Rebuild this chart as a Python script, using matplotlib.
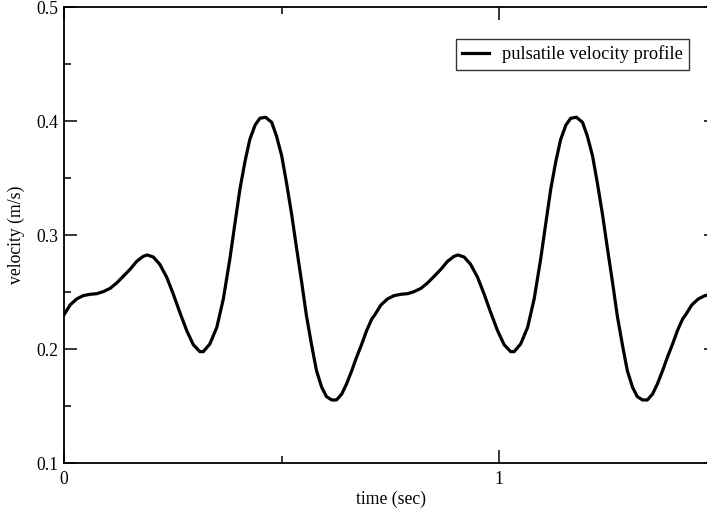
import matplotlib
matplotlib.use("Agg")
import matplotlib.pyplot as plt
from matplotlib.ticker import MultipleLocator

time_sec = [
    0.000, 0.014, 0.029, 0.044, 0.060, 0.075, 0.090, 0.106, 0.121, 0.136,
    0.152, 0.167, 0.182, 0.191, 0.205, 0.220, 0.236, 0.251, 0.266, 0.282,
    0.297, 0.312, 0.320, 0.335, 0.351, 0.366, 0.381, 0.393, 0.404, 0.416,
    0.427, 0.439, 0.450, 0.463, 0.477, 0.488, 0.500, 0.511, 0.523, 0.534,
    0.546, 0.557, 0.569, 0.580, 0.592, 0.603, 0.615, 0.626, 0.638, 0.649,
    0.661, 0.672, 0.684, 0.695, 0.707,
    0.714, 0.728, 0.743, 0.758, 0.774, 0.789, 0.804, 0.820, 0.835, 0.850,
    0.866, 0.881, 0.896, 0.905, 0.919, 0.934, 0.950, 0.965, 0.980, 0.996,
    1.011, 1.026, 1.034, 1.049, 1.065, 1.080, 1.095, 1.107, 1.118, 1.130,
    1.141, 1.153, 1.164, 1.177, 1.191, 1.202, 1.214, 1.225, 1.237, 1.248,
    1.260, 1.271, 1.283, 1.294, 1.306, 1.317, 1.329, 1.340, 1.352, 1.363,
    1.375, 1.386, 1.398, 1.409, 1.421,
    1.428, 1.442, 1.457, 1.472, 1.488, 1.503,
]
velocity = [
    0.2300, 0.2386, 0.2439, 0.2468, 0.2480, 0.2485, 0.2503, 0.2532, 0.2579, 0.2637,
    0.2700, 0.2769, 0.2813, 0.2825, 0.2807, 0.2743, 0.2629, 0.2482, 0.2322, 0.2160,
    0.2038, 0.1977, 0.1977, 0.2044, 0.2190, 0.2439, 0.2790, 0.3110, 0.3400, 0.3650,
    0.3840, 0.3965, 0.4024, 0.4033, 0.3989, 0.3870, 0.3696, 0.3460, 0.3180, 0.2890,
    0.2585, 0.2290, 0.2030, 0.1810, 0.1664, 0.1582, 0.1553, 0.1553, 0.1605, 0.1693,
    0.1810, 0.1927, 0.2044, 0.2160, 0.2263,
    0.2300, 0.2386, 0.2439, 0.2468, 0.2480, 0.2485, 0.2503, 0.2532, 0.2579, 0.2637,
    0.2700, 0.2769, 0.2813, 0.2825, 0.2807, 0.2743, 0.2629, 0.2482, 0.2322, 0.2160,
    0.2038, 0.1977, 0.1977, 0.2044, 0.2190, 0.2439, 0.2790, 0.3110, 0.3400, 0.3650,
    0.3840, 0.3965, 0.4024, 0.4033, 0.3989, 0.3870, 0.3696, 0.3460, 0.3180, 0.2890,
    0.2585, 0.2290, 0.2030, 0.1810, 0.1664, 0.1582, 0.1553, 0.1553, 0.1605, 0.1693,
    0.1810, 0.1927, 0.2044, 0.2160, 0.2263,
    0.2300, 0.2386, 0.2439, 0.2468, 0.2480, 0.2485,
]
series_label = "pulsatile velocity profile"
x_label = "time (sec)"
y_label = "velocity (m/s)"
x_ticks = [0, 1]
y_ticks = [0.1, 0.2, 0.3, 0.4, 0.5]

plt.rcParams["font.family"] = ["Liberation Serif", "DejaVu Serif"]

W, H = 707, 511
fig = plt.figure(figsize=(W / 100, H / 100), dpi=100)
left, right, top, bottom = 64, 717, 7, 463
ax = fig.add_axes([left / W, (H - bottom) / H, (right - left) / W, (bottom - top) / H])

ax.plot(time_sec, velocity, color="black", lw=2.3, label=series_label,
        solid_joinstyle="round")

ax.set_xlim(0, 1.5)
ax.set_ylim(0.1, 0.5)
ax.set_xticks(x_ticks)
ax.set_xticklabels([str(t) for t in x_ticks])
ax.xaxis.set_minor_locator(MultipleLocator(0.5))
ax.set_yticks(y_ticks)
ax.set_yticklabels([f"{t:.1f}" for t in y_ticks])
ax.yaxis.set_minor_locator(MultipleLocator(0.05))

ax.tick_params(which="both", direction="in", top=True, right=True,
               width=1.1, color="black", labelsize=12.7)
ax.tick_params(which="major", length=9.5)
ax.tick_params(which="minor", length=4.7)
ax.tick_params(axis="x", which="major", pad=6)
ax.tick_params(axis="y", which="major", pad=4)
for s in ax.spines.values():
    s.set_linewidth(1.3)
    s.set_color("black")

ax.set_xlabel(x_label, fontsize=12.7, labelpad=2)
ax.set_ylabel(y_label, fontsize=12.7, labelpad=8)

leg = ax.legend(loc="upper left", bbox_to_anchor=(456 / W, 1 - 39 / H),
                bbox_transform=fig.transFigure, fontsize=13.2, frameon=True,
                fancybox=False, shadow=False, borderaxespad=0, borderpad=0.35,
                handlelength=1.45, handletextpad=0.7)
leg.get_frame().set_edgecolor("black")
leg.get_frame().set_linewidth(1.0)

fig.savefig("out.png", dpi=100)
